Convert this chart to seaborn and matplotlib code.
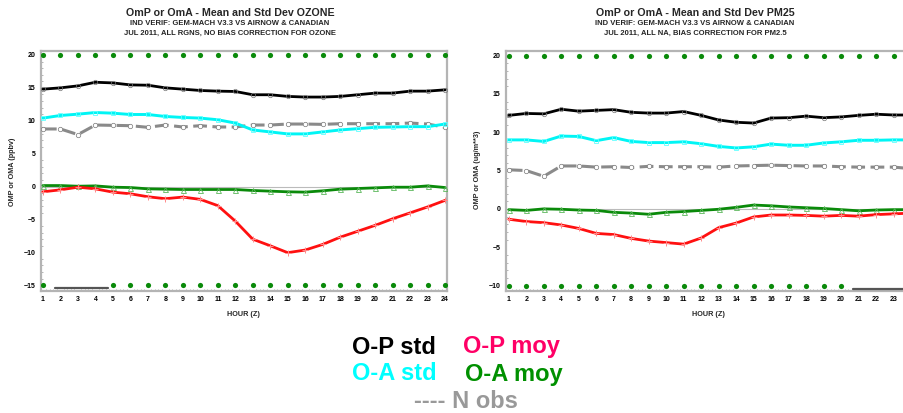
import numpy as np
import pandas as pd
import seaborn as sns
import matplotlib
matplotlib.use("Agg")
import matplotlib.pyplot as plt
from matplotlib.ticker import MultipleLocator

sns.set_theme(style="white")
plt.rcParams['font.family'] = ['Liberation Sans', 'DejaVu Sans']

hours = list(range(1, 25))

# ---------------- OZONE ----------------
oz_op_std = [14.8, 15.0, 15.3, 15.85, 15.75, 15.45, 15.4, 15.0, 14.8, 14.6, 14.5, 14.45,
             13.95, 13.95, 13.7, 13.6, 13.6, 13.7, 13.95, 14.2, 14.2, 14.5, 14.5, 14.7]
oz_oa_std = [10.4, 10.8, 11.0, 11.25, 11.15, 10.95, 10.95, 10.65, 10.5, 10.4, 10.15, 9.65,
             8.6, 8.3, 8.0, 8.0, 8.3, 8.6, 8.8, 9.0, 9.05, 9.1, 9.1, 9.5]
oz_nobs = [8.75, 8.75, 7.9, 9.35, 9.3, 9.25, 9.0, 9.35, 9.05, 9.25, 9.05, 9.05,
           9.35, 9.35, 9.5, 9.5, 9.45, 9.55, 9.55, 9.55, 9.55, 9.65, 9.5, 9.0]
oz_oa_moy = [0.15, 0.15, 0.05, 0.1, -0.1, -0.15, -0.35, -0.4, -0.45, -0.45, -0.45, -0.45,
             -0.6, -0.7, -0.8, -0.85, -0.65, -0.4, -0.3, -0.2, -0.1, -0.1, 0.1, -0.15]
oz_op_moy = [-0.8, -0.5, -0.1, -0.35, -0.85, -1.1, -1.55, -1.85, -1.6, -1.95, -2.9, -5.25,
             -8.0, -9.0, -10.05, -9.65, -8.8, -7.7, -6.8, -5.9, -4.9, -4.0, -3.1, -2.1]
oz_top_hours = list(range(1, 25))
oz_bottom_hours = [1] + list(range(5, 25))
oz_gap = [1.7, 4.7]

# ---------------- PM25 ----------------
pm_op_std = [12.2, 12.45, 12.4, 13.0, 12.75, 12.85, 12.95, 12.6, 12.5, 12.5, 12.7, 12.2,
             11.6, 11.3, 11.2, 11.85, 11.9, 12.1, 11.9, 12.0, 12.2, 12.35, 12.25, 12.25]
pm_oa_std = [9.0, 9.0, 8.8, 9.5, 9.45, 8.9, 9.3, 8.8, 8.65, 8.65, 8.75, 8.5,
             8.15, 7.95, 8.1, 8.45, 8.3, 8.3, 8.6, 8.75, 8.95, 8.95, 9.0, 9.0]
pm_nobs = [5.1, 5.0, 4.25, 5.6, 5.6, 5.45, 5.5, 5.4, 5.55, 5.5, 5.5, 5.5,
           5.45, 5.6, 5.65, 5.7, 5.65, 5.6, 5.6, 5.5, 5.45, 5.45, 5.45, 5.25]
pm_oa_moy = [-0.1, -0.2, 0.0, -0.05, -0.15, -0.2, -0.45, -0.55, -0.7, -0.45, -0.35, -0.2,
             -0.05, 0.2, 0.5, 0.4, 0.25, 0.15, 0.05, -0.1, -0.25, -0.15, -0.1, -0.1]
pm_op_moy = [-1.35, -1.65, -1.8, -2.1, -2.55, -3.2, -3.35, -3.85, -4.2, -4.4, -4.6, -3.8,
             -2.45, -1.85, -1.05, -0.8, -0.8, -0.85, -0.95, -0.85, -0.95, -0.75, -0.65, -0.55]
pm_top_hours = list(range(1, 25))
pm_bottom_hours = list(range(1, 21))
pm_gap = [20.7, 24.2]
pm_xticklabels = [str(h) for h in range(1, 24)] + [""]   # hour 24 falls outside the picture

W, H = 904, 413
fig = plt.figure(figsize=(W / 100, H / 100), dpi=100)

def fx(px):
    return px / W

def fy(py):
    return 1 - py / H

C_BLACK = "#000000"
C_CYAN = "#00f5f5"
C_GRAY = "#8a8a8a"
C_GREEN = "#0a8a0a"
C_RED = "#ff1010"
C_DOT = "#0a8a0a"


def panel(left_px, right_px, xlim, ylim, yticks, op_std, oa_std, nobs, oa_moy, op_moy,
          top_hours, bottom_hours, gap, xticklabels):
    top_px, bot_px = 51, 290.5
    ax = fig.add_axes([fx(left_px), fy(bot_px), fx(right_px - left_px), (bot_px - top_px) / H])
    ax.axhline(0, color="#bbbbbb", lw=0.8, zorder=1)
    df = pd.DataFrame({"hour": hours, "op_std": op_std, "oa_std": oa_std, "nobs": nobs,
                       "oa_moy": oa_moy, "op_moy": op_moy})
    sns.lineplot(data=df, x="hour", y="nobs", ax=ax, color=C_GRAY, lw=2.2,
                 linestyle=(0, (4.5, 1.8)), marker="o", markersize=3.2, markerfacecolor="white",
                 markeredgecolor="#777777", markeredgewidth=0.5, zorder=3)
    sns.lineplot(data=df, x="hour", y="op_std", ax=ax, color=C_BLACK, lw=2.0,
                 marker="o", markersize=3.2, markerfacecolor="none",
                 markeredgecolor="#777777", markeredgewidth=0.5, zorder=4)
    sns.lineplot(data=df, x="hour", y="oa_std", ax=ax, color=C_CYAN, lw=2.1,
                 marker="s", markersize=3.4, markerfacecolor="none",
                 markeredgecolor="#60ffff", markeredgewidth=0.6, zorder=4)
    sns.lineplot(data=df, x="hour", y="oa_moy", ax=ax, color=C_GREEN, lw=2.0,
                 marker="^", markersize=3.6, markerfacecolor="none",
                 markeredgecolor="#5cb85c", markeredgewidth=0.6, zorder=5)
    sns.lineplot(data=df, x="hour", y="op_moy", ax=ax, color=C_RED, lw=2.0,
                 marker="+", markersize=4, markeredgecolor="#ff8a8a",
                 markeredgewidth=0.7, zorder=5)
    ytop = yticks[-1]
    ybot = yticks[0]
    sns.scatterplot(x=top_hours, y=[ytop] * len(top_hours), ax=ax, color=C_DOT, s=14,
                    linewidth=0, zorder=6)
    sns.scatterplot(x=bottom_hours, y=[ybot] * len(bottom_hours), ax=ax, color=C_DOT, s=14,
                    linewidth=0, zorder=6)
    sns.lineplot(x=gap, y=[ybot - 0.45 * (ylim[1] - ylim[0]) / 36] * 2, ax=ax,
                 color="#555555", lw=1.6, zorder=6)
    ax.set_xlim(*xlim)
    ax.set_ylim(*ylim)
    ax.set_xticks(hours)
    ax.set_xticklabels(xticklabels)
    ax.set_yticks(yticks)
    ax.set_yticklabels([f"{t:d}".replace("-", "\u2212") for t in yticks])
    ax.xaxis.set_minor_locator(MultipleLocator(0.2))
    ax.yaxis.set_minor_locator(MultipleLocator(1))
    ax.tick_params(axis="both", which="major", labelsize=5, length=0, pad=4, colors="black")
    ax.tick_params(axis="both", which="minor", direction="in", length=1.5, width=0.5,
                   color="#999999", bottom=True, left=True)
    for lab in ax.get_xticklabels() + ax.get_yticklabels():
        lab.set_fontweight("bold")
    for sp in ax.spines.values():
        sp.set_color("#b4b4b4")
        sp.set_linewidth(1.6)
        sp.set_visible(True)
    ax.set_xlabel("")
    ax.set_ylabel("")
    ax.grid(False)
    ax.set_facecolor("white")
    return ax


ax1 = panel(41, 447, (0.89, 24.11), (-15.8, 20.6), [-15, -10, -5, 0, 5, 10, 15, 20],
            oz_op_std, oz_oa_std, oz_nobs, oz_oa_moy, oz_op_moy,
            oz_top_hours, oz_bottom_hours, oz_gap, [str(h) for h in hours])
ax2 = panel(506.3, 913, (0.86, 24.11), (-10.65, 20.6), [-10, -5, 0, 5, 10, 15, 20],
            pm_op_std, pm_oa_std, pm_nobs, pm_oa_moy, pm_op_moy,
            pm_top_hours, pm_bottom_hours, pm_gap, pm_xticklabels)

# titles
for cx, t1, t3 in [(230, "OmP or OmA - Mean and Std Dev OZONE",
                    "JUL 2011, ALL RGNS, NO BIAS CORRECTION FOR OZONE"),
                   (695, "OmP or OmA - Mean and Std Dev PM25",
                    "JUL 2011, ALL NA, BIAS CORRECTION FOR PM2.5")]:
    fig.text(fx(cx), fy(13.5), t1, ha="center", va="center", fontsize=7.7, fontweight="bold")
    fig.text(fx(cx), fy(23.5), "IND VERIF: GEM-MACH V3.3 VS AIRNOW & CANADIAN",
             ha="center", va="center", fontsize=5.5, fontweight="bold")
    fig.text(fx(cx), fy(33), t3, ha="center", va="center", fontsize=5.5, fontweight="bold")

# axis labels
fig.text(fx(13), fy(172), "OMP or OMA (ppbv)", rotation=90, ha="center", va="center",
         fontsize=5.2, fontweight="bold")
fig.text(fx(478), fy(170), "OMP or OMA (ug/m**3)", rotation=90, ha="center", va="center",
         fontsize=5.2, fontweight="bold")
fig.text(fx(243), fy(314), "HOUR (Z)", ha="center", va="center", fontsize=5.2, fontweight="bold")
fig.text(fx(708), fy(314), "HOUR (Z)", ha="center", va="center", fontsize=5.2, fontweight="bold")

# legend texts
LFS = 17
fig.text(fx(352), fy(347), "O-P std", color="black", fontsize=LFS, fontweight="bold", va="center")
fig.text(fx(463), fy(347), "O-P moy", color="#ff0066", fontsize=LFS, fontweight="bold", va="center")
fig.text(fx(352), fy(374), "O-A std", color="#00ffff", fontsize=LFS, fontweight="bold", va="center")
fig.text(fx(465), fy(374), "O-A moy", color="#009000", fontsize=LFS, fontweight="bold", va="center")
fig.text(fx(414), fy(402), "---- N obs", color="#999999", fontsize=LFS, fontweight="bold", va="center")

fig.savefig("out.png", dpi=100, facecolor="white")
